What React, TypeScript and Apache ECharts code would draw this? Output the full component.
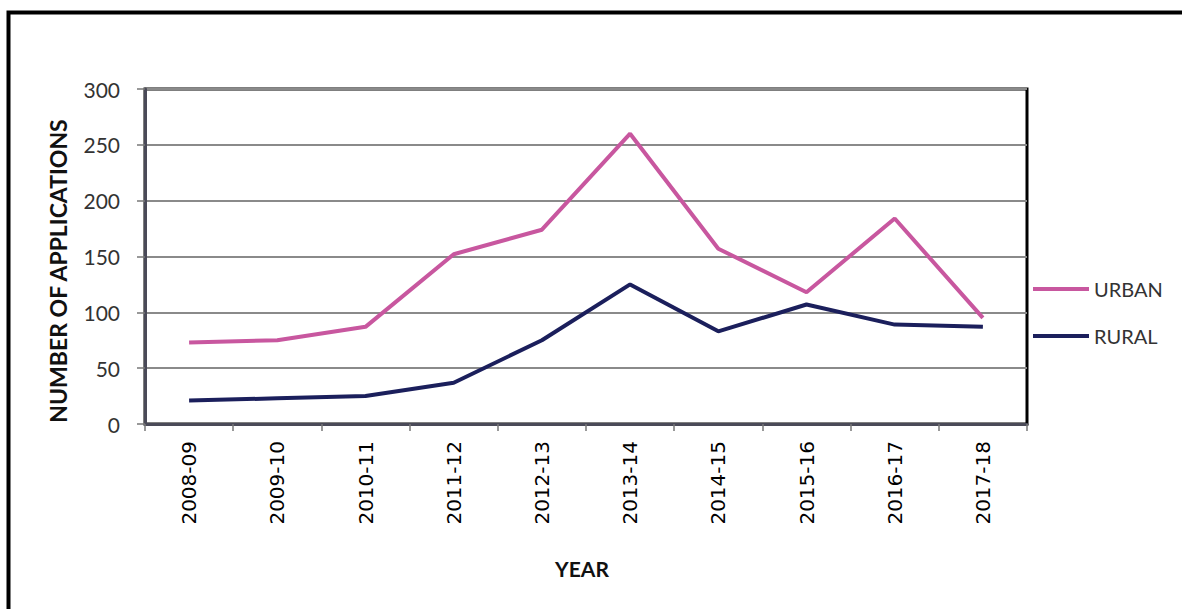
import React, { useEffect, useRef } from "react";
import * as echarts from "echarts";

// Applications per year, split by area
const years = [
  "2008-09", "2009-10", "2010-11", "2011-12", "2012-13",
  "2013-14", "2014-15", "2015-16", "2016-17", "2017-18",
];
const urban = [73, 75, 87, 152, 174, 260, 157, 118, 184, 95];
const rural = [21, 23, 25, 37, 75, 125, 83, 107, 89, 87];
const yTicks = { min: 0, max: 300, interval: 50 };

const URBAN_COLOR = "#c8579f";
const RURAL_COLOR = "#1b1f5c";

export default function App() {
  const ref = useRef<HTMLDivElement>(null);

  useEffect(() => {
    if (!ref.current) return;
    const chart = echarts.init(ref.current, null, { renderer: "svg" });
    chart.setOption({
      animation: false,
      backgroundColor: "#ffffff",
      grid: {
        left: 145,
        top: 89,
        right: 155,
        bottom: 185,
        show: true,
        borderColor: "#000000",
        borderWidth: 3,
        backgroundColor: "transparent",
      },
      legend: {
        orient: "vertical",
        left: 1033,
        top: 279,
        padding: 0,
        itemWidth: 56,
        itemHeight: 4,
        itemGap: 27,
        icon: "rect",
        textStyle: {
          fontFamily: "Lato",
          fontSize: 20,
          color: "#333333",
        },
        data: ["URBAN", "RURAL"],
      },
      xAxis: {
        type: "category",
        data: years,
        boundaryGap: true,
        axisLine: { show: true, lineStyle: { color: "#4a4a58", width: 3 } },
        axisTick: {
          show: true,
          alignWithLabel: false,
          length: 7,
          lineStyle: { color: "#777777", width: 1.5 },
        },
        axisLabel: {
          rotate: 90,
          margin: 17,
          fontFamily: "DejaVu Sans",
          fontSize: 20,
          color: "#000000",
        },
        splitLine: { show: false },
      },
      yAxis: {
        type: "value",
        min: yTicks.min,
        max: yTicks.max,
        interval: yTicks.interval,
        axisLine: { show: true, lineStyle: { color: "#4a4a58", width: 3 } },
        axisTick: {
          show: true,
          length: 8,
          lineStyle: { color: "#777777", width: 1.5 },
        },
        axisLabel: {
          margin: 25,
          fontFamily: "Lato",
          fontSize: 21,
          color: "#333333",
        },
        splitLine: { show: true, lineStyle: { color: "#8a8a8a", width: 2 } },
      },
      series: [
        {
          name: "URBAN",
          type: "line",
          data: urban,
          showSymbol: false,
          symbol: "none",
          color: URBAN_COLOR,
          lineStyle: { color: URBAN_COLOR, width: 4 },
          z: 3,
        },
        {
          name: "RURAL",
          type: "line",
          data: rural,
          showSymbol: false,
          symbol: "none",
          color: RURAL_COLOR,
          lineStyle: { color: RURAL_COLOR, width: 4 },
          z: 3,
        },
      ],
      graphic: [
        {
          type: "rect",
          shape: { x: 8.5, y: 12.5, width: 1400, height: 900 },
          style: { fill: "none", stroke: "#000000", lineWidth: 4 },
          silent: true,
        },
        {
          type: "text",
          x: 58,
          y: 271,
          rotation: Math.PI / 2,
          style: {
            text: "NUMBER OF APPLICATIONS",
            fontFamily: "Lato",
            fontWeight: "bold",
            fontSize: 23,
            fill: "#111111",
            align: "center",
            verticalAlign: "middle",
          },
        },
        {
          type: "text",
          x: 582,
          y: 568,
          style: {
            text: "YEAR",
            fontFamily: "Lato",
            fontWeight: "bold",
            fontSize: 21,
            fill: "#111111",
            align: "center",
            verticalAlign: "middle",
          },
        },
      ],
    });
    return () => chart.dispose();
  }, []);

  return (
    <div
      ref={ref}
      style={{ position: "fixed", left: 0, top: 0, width: 1182, height: 609 }}
    />
  );
}
